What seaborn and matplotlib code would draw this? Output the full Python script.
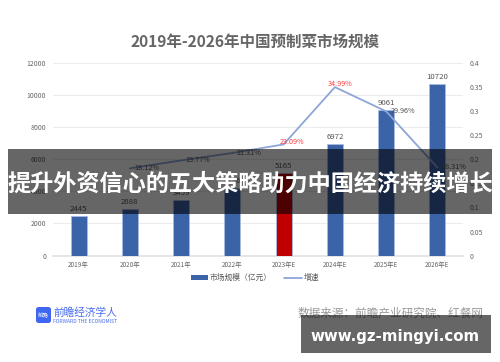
import pandas as pd
import matplotlib
matplotlib.use('Agg')
import matplotlib.pyplot as plt
from matplotlib.lines import Line2D
from matplotlib.patches import FancyBboxPatch, Patch, Rectangle
import seaborn as sns

years = ['2019年', '2020年', '2021年', '2022年', '2023年E', '2024年E', '2025年E', '2026年E']
market_size = [2445, 2888, 3459, 4196, 5165, 6972, 9061, 10720]
growth_years = years[1:]
growth = [0.1812, 0.1977, 0.2131, 0.2309, 0.3499, 0.2996, 0.1831]
growth_labels = ['18.12%', '19.77%', '21.31%', '23.09%', '34.99%', '29.96%', '18.31%']
left_ticks = [0, 2000, 4000, 6000, 8000, 10000, 12000]
right_ticks = [0, 0.05, 0.1, 0.15, 0.2, 0.25, 0.3, 0.35, 0.4]
right_labels = ['0', '0.05', '0.1', '0.15', '0.2', '0.25', '0.3', '0.35', '0.4']
bar_colors = ['#3a63a8'] * 4 + ['#c00000'] + ['#3a63a8'] * 3

sns.set_theme(style='white')
plt.rcParams['font.family'] = ['Noto Sans CJK SC', 'DejaVu Sans']

W, H = 500, 362
fig = plt.figure(figsize=(W / 100, H / 100), dpi=100)
ax = fig.add_axes([53 / W, 1 - 255.6 / H, 410 / W, 192.6 / H])

bars = pd.DataFrame({'year': years, 'size': market_size})
sns.barplot(data=bars, x='year', y='size', hue='year', palette=bar_colors, legend=False,
            width=0.31, edgecolor='#a9bde3', linewidth=0.6, saturation=1, ax=ax, zorder=3)
ax.set_ylim(0, 12000)
ax.set_xlim(-0.5, 7.5)
ax.set_yticks(left_ticks)
ax.set_xlabel('')
ax.set_ylabel('')
ax.grid(axis='y', color='#ececec', linewidth=0.8)
ax.set_axisbelow(True)
ax.tick_params(axis='both', length=0, labelsize=5, labelcolor='#666666')
ax.tick_params(axis='x', pad=4, labelsize=4.6)
ax.tick_params(axis='y', pad=5)
sns.despine(ax=ax, left=True, right=True, top=True, bottom=False)
ax.spines['bottom'].set_color('#e2e2e2')

for i, v in enumerate(market_size):
    ax.text(i, v + 180, str(v), ha='center', va='bottom', fontsize=5.6, color='#555555')

ax2 = ax.twinx()
rates = pd.DataFrame({'year': growth_years, 'growth': growth})
sns.lineplot(data=rates, x='year', y='growth', color='#8ea5d8', linewidth=1.3, sort=False, ax=ax2)
ax2.set_ylim(0, 0.4)
ax2.set_xlim(-0.5, 7.5)
ax2.set_yticks(right_ticks)
ax2.set_yticklabels(right_labels)
ax2.set_ylabel('')
ax2.grid(False)
ax2.tick_params(axis='y', length=0, labelsize=5, labelcolor='#666666', pad=5)
sns.despine(ax=ax2, left=True, right=True, top=True, bottom=True)

# most labels sit to the right of the point, the two red ones above it
for i, (v, s) in enumerate(zip(growth, growth_labels)):
    dx, dy, col = 0.33, 0, '#555555'
    if s == '23.09%':
        dx, dy, col = 0.165, 0.005, '#ff3b3b'
    elif s == '34.99%':
        dx, dy, col = 0.1, 0.006, '#ff3b3b'
    ax2.text(i + 1 + dx, v + dy, s, ha='center', va='center', fontsize=5.2, color=col, zorder=4)

fig.text(255 / W, 1 - 42 / H, '2019年-2026年中国预制菜市场规模', ha='center', va='center',
         fontsize=11.2, fontweight='bold', color='#666666')

handles = [Patch(facecolor='#3a63a8', edgecolor='none'),
           Line2D([0], [0], color='#8ea5d8', linewidth=1.3)]
fig.legend(handles, ['市场规模（亿元）', '增速'], loc='center', bbox_to_anchor=(255 / W, 1 - 278 / H),
           ncol=2, frameon=False, fontsize=5.6, labelcolor='#555555', handlelength=2.3,
           handleheight=0.5, columnspacing=1.6, handletextpad=0.2)

# logo and source line
fig.add_artist(FancyBboxPatch((36 / W, 1 - 323 / H), 15 / W, 16 / H,
                              boxstyle='round,pad=0,rounding_size=0.006',
                              transform=fig.transFigure, facecolor='#3f66f0', edgecolor='none'))
fig.text(43.5 / W, 1 - 315 / H, '前瞻', ha='center', va='center', fontsize=4, color='white')
fig.text(53 / W, 1 - 313 / H, '前瞻经济学人', ha='left', va='center', fontsize=7.7, color='#4a6ef0')
fig.text(53 / W, 1 - 321.5 / H, 'FORWARD THE ECONOMIST', ha='left', va='center', fontsize=3.6, color='#4a6ef0')
fig.text(297 / W, 1 - 313 / H, '数据来源：前瞻产业研究院、红餐网', ha='left', va='center', fontsize=8.4, color='#999999')

# dark overlay bands
fig.add_artist(Rectangle((8 / W, 1 - 214 / H), 484 / W, 65 / H, transform=fig.transFigure,
                         facecolor='black', alpha=0.6, edgecolor='none', zorder=5))
fig.add_artist(Rectangle((301 / W, 1 - 353 / H), 190 / W, 38 / H, transform=fig.transFigure,
                         facecolor='black', alpha=0.6, edgecolor='none', zorder=5))
fig.text(250 / W, 1 - 184 / H, '提升外资信心的五大策略助力中国经济持续增长', ha='center', va='center',
         fontsize=16.7, fontweight='bold', color='white', zorder=6)
fig.text(395.5 / W, 1 - 336.5 / H, 'www.gz-mingyi.com', ha='center', va='center',
         fontsize=10.8, fontweight='bold', color='white', family=['DejaVu Sans'], zorder=6)

fig.savefig('out.png', dpi=100)
